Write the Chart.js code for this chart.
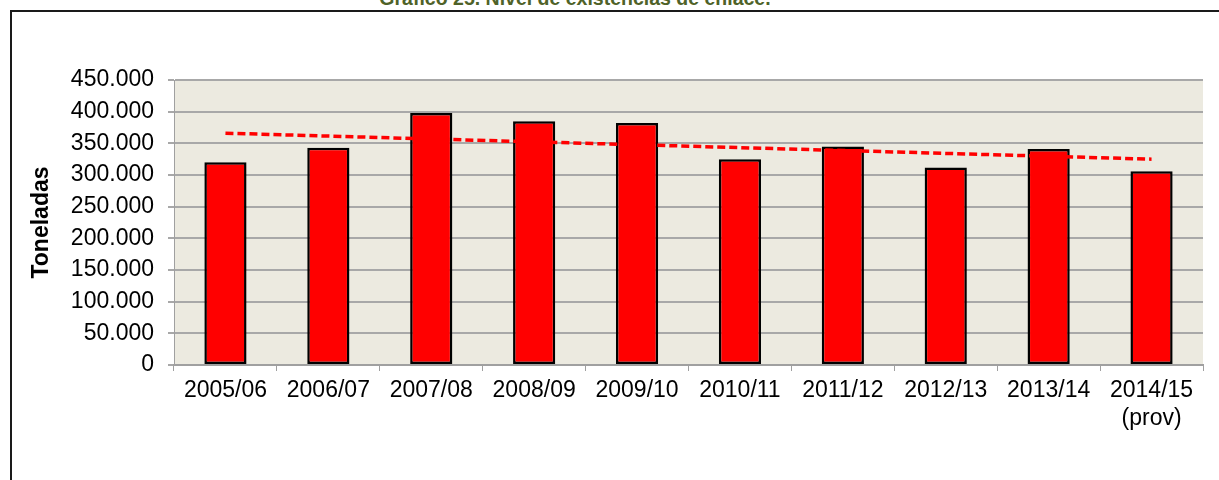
<!DOCTYPE html>
<html>
<head>
<meta charset="utf-8">
<script src="https://cdn.jsdelivr.net/npm/chart.js@4/dist/chart.umd.min.js"></script>
<style>
    body { margin: 0; background: #fff; }
    #wrap { position: relative; width: 1219px; height: 480px; overflow: hidden; }
    #box { position: absolute; left: 10px; top: 10px; width: 1400px; height: 600px;
           border-left: 2px solid #1a1a1a; border-top: 2px solid #1a1a1a; }
    #titulo { position: absolute; left: 0; width: 1150px; top: -11px; text-align: center;
              font: bold 19.5px "Liberation Sans", Arial, sans-serif; line-height: 1; color: #4F6228; }
    canvas { position: absolute; left: 0; top: 0; }
</style>
</head>
<body>
<div id="wrap">
    <div id="titulo">Gráfico 25. Nivel de existencias de enlace.</div>
    <div id="box"></div>
    <canvas id="canvas" width="1219" height="480"></canvas>
</div>
<script>
var campanas = ['2005/06', '2006/07', '2007/08', '2008/09', '2009/10', '2010/11', '2011/12', '2012/13', '2013/14', ['2014/15', '(prov)']];
var existencias = [320000, 343000, 398000, 385000, 382000, 325000, 345000, 312000, 341000, 306000];
// linea de tendencia: solo se leen los extremos, Chart.js une los dos puntos
var tendencia = [366000, null, null, null, null, null, null, null, null, 325000];

function miles(v) {
    return String(v).replace(/\B(?=(\d{3})+(?!\d))/g, '.');
}

var fondo = {
    id: 'fondo',
    beforeDraw: function(chart) {
        var a = chart.chartArea;
        var ctx = chart.ctx;
        ctx.save();
        ctx.fillStyle = '#ECEAE0';
        ctx.fillRect(a.left, a.top, a.right - a.left, a.bottom - a.top);
        ctx.restore();
    }
};

var config = {
    type: 'bar',
    data: {
        labels: campanas,
        datasets: [{
            type: 'line',
            data: tendencia,
            spanGaps: true,
            borderColor: '#FF0000',
            borderWidth: 3.5,
            borderDash: [8, 4],
            pointRadius: 0,
            fill: false,
            order: 0
        }, {
            data: existencias,
            backgroundColor: '#FF0000',
            borderColor: '#000000',
            borderWidth: 2.5,
            borderSkipped: false,
            barPercentage: 0.41,
            categoryPercentage: 1,
            order: 1
        }]
    },
    options: {
        responsive: false,
        animation: false,
        layout: { padding: { left: 0, top: 80, right: 16, bottom: 0 } },
        plugins: {
            legend: { display: false },
            tooltip: { enabled: false }
        },
        scales: {
            x: {
                offset: true,
                afterFit: function(s) { s.height = 115; },
                grid: {
                    offset: true,
                    drawOnChartArea: false,
                    drawTicks: true,
                    tickLength: 6,
                    color: '#A0A0A0'
                },
                border: { color: '#A0A0A0', width: 2 },
                ticks: {
                    color: '#000',
                    padding: 6,
                    maxRotation: 0,
                    autoSkip: false,
                    font: { family: 'Liberation Sans', size: 23 }
                }
            },
            y: {
                min: 0,
                max: 450000,
                afterFit: function(s) { s.width = 174; },
                grid: {
                    color: '#A8A8A8',
                    lineWidth: 2,
                    tickLength: 6
                },
                border: { color: '#A0A0A0', width: 1 },
                ticks: {
                    stepSize: 50000,
                    color: '#000',
                    padding: 14,
                    font: { family: 'Liberation Sans', size: 23 },
                    callback: function(v) { return miles(v); }
                },
                title: {
                    display: true,
                    text: 'Toneladas',
                    color: '#000',
                    padding: { top: 28, bottom: 0 },
                    font: { family: 'Liberation Sans', size: 23, weight: 'bold' }
                }
            }
        }
    },
    plugins: [fondo]
};

window.onload = function() {
    var ctx = document.getElementById('canvas').getContext('2d');
    window.myBar = new Chart(ctx, config);
};
</script>
</body>
</html>
